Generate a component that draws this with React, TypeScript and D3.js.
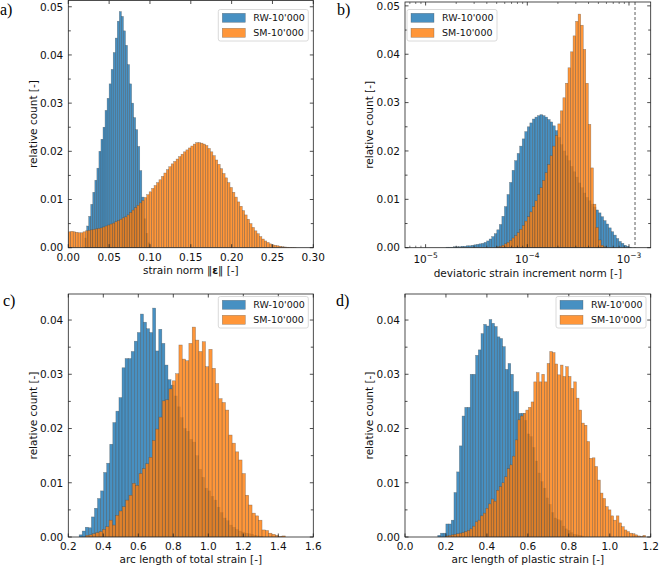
import React from "react";
import * as d3 from "d3";

// ---------- DATA ----------
const seriesNames = ["RW-10'000", "SM-10'000"];
const seriesColors = ["#1f77b4", "#ff7f0e"];

// Panel a: strain norm
const aRwStart = 0.02;
const aRwWidth = 0.0025;
const aRwValues = [0.002, 0.0045, 0.0065, 0.009, 0.0115, 0.014, 0.0165, 0.02, 0.0225, 0.025, 0.0285, 0.031, 0.034, 0.037, 0.0405, 0.0435, 0.047, 0.049, 0.048, 0.045, 0.042, 0.038, 0.034, 0.03, 0.027, 0.0245, 0.021, 0.016, 0.0105, 0.006, 0.003, 0.001];
const aSmStart = 0;
const aSmWidth = 0.003;
const aSmValues = [0.0033, 0.0034, 0.0033, 0.0032, 0.0031, 0.0031, 0.0033, 0.0035, 0.0036, 0.0037, 0.0038, 0.0039, 0.004, 0.0041, 0.0043, 0.0045, 0.0047, 0.0049, 0.0051, 0.0054, 0.0056, 0.0059, 0.0062, 0.0064, 0.0068, 0.0073, 0.0078, 0.0083, 0.0088, 0.0093, 0.0098, 0.0104, 0.011, 0.0116, 0.0123, 0.0129, 0.0135, 0.0141, 0.0148, 0.0155, 0.0162, 0.0168, 0.0174, 0.0179, 0.0184, 0.0189, 0.0194, 0.0199, 0.0203, 0.0207, 0.0211, 0.0215, 0.0218, 0.0218, 0.0217, 0.0215, 0.0212, 0.0206, 0.0199, 0.0191, 0.0182, 0.0173, 0.0164, 0.0154, 0.0145, 0.0135, 0.0125, 0.0115, 0.0105, 0.0095, 0.0086, 0.0077, 0.0068, 0.0059, 0.005, 0.0042, 0.0035, 0.0029, 0.0023, 0.0018, 0.0014, 0.0011, 0.0008, 0.0006, 0.0005, 0.0004, 0.0003, 0.0002, 0.00015, 0.0001, 0.00007, 0.00005, 0.00003];
const aXTicks = [0, 0.05, 0.1, 0.15, 0.2, 0.25, 0.3];

// Panel b: deviatoric strain increment norm (bins in log10 exponent)
const bBinStep = 0.025;
const bRwStartExp = -4.8;
const bRwValues = [0.0001, 0.0001, 0.0001, 0.0002, 0.0002, 0.0002, 0.0003, 0.0003, 0.0004, 0.0004, 0.0005, 0.0006, 0.0007, 0.0008, 0.0009, 0.0011, 0.0014, 0.0018, 0.0023, 0.0029, 0.0037, 0.0048, 0.0065, 0.0085, 0.011, 0.0135, 0.016, 0.018, 0.0195, 0.021, 0.0225, 0.024, 0.025, 0.0258, 0.0266, 0.027, 0.0273, 0.0275, 0.0273, 0.027, 0.0265, 0.026, 0.0252, 0.0242, 0.0228, 0.0213, 0.02, 0.019, 0.018, 0.0168, 0.0157, 0.0146, 0.0134, 0.0124, 0.0113, 0.0104, 0.0097, 0.009, 0.0084, 0.0078, 0.0072, 0.0064, 0.0056, 0.0049, 0.0041, 0.0033, 0.0026, 0.0019, 0.0013, 0.0009, 0.0005, 0.0003, 0.0001];
const bSmStartExp = -4.3;
const bSmValues = [0.0002, 0.0003, 0.0005, 0.0008, 0.0011, 0.0015, 0.002, 0.0025, 0.0031, 0.0038, 0.0046, 0.0055, 0.0064, 0.0074, 0.0085, 0.0097, 0.011, 0.0124, 0.0139, 0.0155, 0.0172, 0.019, 0.021, 0.0232, 0.0256, 0.0283, 0.031, 0.034, 0.0372, 0.0405, 0.0438, 0.0468, 0.0483, 0.046, 0.041, 0.034, 0.0255, 0.0165, 0.009, 0.0042, 0.0016, 0.0005, 0.0002];
const bXMajor = [1e-5, 1e-4, 1e-3];
const bXExponents = ["−5", "−4", "−3"];
const bDashedValue = 1.146e-3;

// Panel c: arc length of total strain
const cRwStart = 0.262;
const cRwWidth = 0.0175;
const cRwValues = [0.0004, 0.0011, 0.0018, 0.0017, 0.0037, 0.0053, 0.0071, 0.0085, 0.0119, 0.0136, 0.0171, 0.0211, 0.0232, 0.0257, 0.0312, 0.0329, 0.0329, 0.0342, 0.0361, 0.0377, 0.0411, 0.0396, 0.0384, 0.0377, 0.0422, 0.0343, 0.0383, 0.0357, 0.0317, 0.029, 0.028, 0.026, 0.024, 0.022, 0.02, 0.0195, 0.018, 0.0175, 0.015, 0.0125, 0.011, 0.009, 0.0085, 0.0075, 0.0068, 0.0055, 0.0045, 0.0035, 0.003, 0.0022, 0.0018, 0.0014, 0.0011, 0.0009, 0.0007, 0.0006, 0.0005, 0.0003, 0.0002, 0.0001];
const cSmStart = 0.3;
const cSmWidth = 0.019;
const cSmValues = [0.0003, 0.0004, 0.0006, 0.0008, 0.001, 0.0014, 0.0019, 0.0031, 0.0022, 0.004, 0.0048, 0.0056, 0.0068, 0.0077, 0.0099, 0.0095, 0.0117, 0.0126, 0.0135, 0.0147, 0.0178, 0.0199, 0.0221, 0.0251, 0.0253, 0.0273, 0.0288, 0.0301, 0.0354, 0.0328, 0.0325, 0.0357, 0.0387, 0.0363, 0.0342, 0.036, 0.0314, 0.0346, 0.0311, 0.0283, 0.0255, 0.0248, 0.0234, 0.0188, 0.0173, 0.0157, 0.0142, 0.0117, 0.0077, 0.0059, 0.0044, 0.0039, 0.0031, 0.0013, 0.0012, 0.0007, 0.0005, 0.0003, 0.0001, 0.0002];
const cXTicks = [0.2, 0.4, 0.6, 0.8, 1.0, 1.2, 1.4, 1.6];

// Panel d: arc length of plastic strain
const dRwStart = 0.16;
const dRwWidth = 0.0132;
const dRwValues = [0.0003, 0.0007, 0.0007, 0.0024, 0.0024, 0.0031, 0.0082, 0.012, 0.0168, 0.0223, 0.0239, 0.0239, 0.03, 0.03, 0.0335, 0.0345, 0.0375, 0.0392, 0.0389, 0.0401, 0.0394, 0.0388, 0.0369, 0.0366, 0.0351, 0.0309, 0.032, 0.03, 0.0268, 0.0268, 0.0228, 0.0228, 0.0215, 0.019, 0.0185, 0.0165, 0.014, 0.0118, 0.0102, 0.009, 0.0072, 0.006, 0.0045, 0.0035, 0.0032, 0.003, 0.002, 0.0015, 0.0012, 0.0008, 0.0005, 0.0004, 0.0003, 0.0002];
const dSmStart = 0.2;
const dSmWidth = 0.013;
const dSmValues = [0.0002, 0.0003, 0.0004, 0.0005, 0.0006, 0.0007, 0.0008, 0.001, 0.0012, 0.0015, 0.002, 0.0028, 0.0031, 0.0039, 0.0044, 0.0053, 0.0061, 0.007, 0.0066, 0.0086, 0.0093, 0.01, 0.0111, 0.0126, 0.0133, 0.0149, 0.0179, 0.0216, 0.0223, 0.0228, 0.0234, 0.0239, 0.0249, 0.0286, 0.0303, 0.0286, 0.03, 0.0286, 0.032, 0.0342, 0.034, 0.0319, 0.0299, 0.0317, 0.0296, 0.0314, 0.0296, 0.0274, 0.0286, 0.0256, 0.0234, 0.021, 0.0206, 0.0176, 0.0145, 0.0146, 0.013, 0.0105, 0.0081, 0.0071, 0.0056, 0.005, 0.0039, 0.0031, 0.0039, 0.0026, 0.0019, 0.0013, 0.001, 0.0007, 0.0006, 0.0004, 0.0002, 0.0001, 0.0003];
const dXTicks = [0, 0.2, 0.4, 0.6, 0.8, 1.0, 1.2];

const yLabel = "relative count [-]";

// ---------- HELPERS ----------
type Bin = { x0: number; x1: number; v: number };
const linBins = (start: number, width: number, values: number[]): Bin[] =>
  values.map((v, i) => ({ x0: start + i * width, x1: start + (i + 1) * width, v }));
const logBins = (startExp: number, step: number, values: number[]): Bin[] =>
  values.map((v, i) => ({ x0: Math.pow(10, startExp + i * step), x1: Math.pow(10, startExp + (i + 1) * step), v }));

const FONT = "DejaVu Sans, sans-serif";
const TICK_FS = 10.5;
const FILL_OP = 0.82;

type PanelCfg = {
  id: string;
  label: string;
  labelPos: [number, number];
  box: { left: number; right: number; top: number; bottom: number };
  log?: boolean;
  xDomain: [number, number];
  yMax: number;
  series: Bin[][];
  xTicks: number[];
  xFormat?: (v: number) => string;
  xLabel: React.ReactNode;
  xLabelY: number;
  yLabelX: number;
  legend: { x: number; y: number };
  dashed?: number;
};

function Panel({ cfg }: { cfg: PanelCfg }) {
  const { left, right, top, bottom } = cfg.box;
  const xs: any = cfg.log
    ? d3.scaleLog().domain(cfg.xDomain).range([left, right])
    : d3.scaleLinear().domain(cfg.xDomain).range([left, right]);
  const ys = d3.scaleLinear().domain([0, cfg.yMax]).range([bottom, top]);
  const yTickVals = d3.range(0, cfg.yMax + 1e-9, 0.005);
  const clipId = "clip-" + cfg.id;
  const tickColor = "#222";

  const minorLog: number[] = [];
  if (cfg.log) {
    for (let k = -7; k <= -2; k++) {
      for (let m = 2; m <= 9; m++) {
        const v = m * Math.pow(10, k);
        if (v > cfg.xDomain[0] && v < cfg.xDomain[1]) minorLog.push(v);
      }
    }
  }

  return (
    <g>
      <defs>
        <clipPath id={clipId}>
          <rect x={left} y={top} width={right - left} height={bottom - top} />
        </clipPath>
      </defs>
      <g clipPath={`url(#${clipId})`}>
        {cfg.series.map((bins, si) => (
          <g key={si}>
            {bins.map((b, i) => {
              const x0 = xs(b.x0);
              const x1 = xs(b.x1);
              const y = ys(b.v);
              return (
                <rect
                  key={i}
                  x={x0}
                  y={y}
                  width={Math.max(0, x1 - x0)}
                  height={Math.max(0, ys(0) - y)}
                  fill={seriesColors[si]}
                  fillOpacity={FILL_OP}
                  stroke="#444"
                  strokeOpacity={0.55}
                  strokeWidth={0.5}
                />
              );
            })}
          </g>
        ))}
        {cfg.dashed !== undefined && (
          <line
            x1={xs(cfg.dashed)}
            x2={xs(cfg.dashed)}
            y1={top}
            y2={bottom}
            stroke="#333"
            strokeWidth={0.8}
            strokeDasharray="3,2"
          />
        )}
      </g>

      {/* y ticks left & right */}
      {yTickVals.map((v, i) => {
        const y = ys(v);
        const major = i % 2 === 0;
        const len = major ? 3.5 : 2.5;
        return (
          <g key={"yt" + i}>
            <line x1={left} x2={left + len} y1={y} y2={y} stroke={tickColor} strokeWidth={0.8} />
            <line x1={right} x2={right - len} y1={y} y2={y} stroke={tickColor} strokeWidth={0.8} />
            {major && (
              <text
                x={left - 5}
                y={y}
                dy="0.36em"
                textAnchor="end"
                fontFamily={FONT}
                fontSize={TICK_FS}
                fill="#111"
              >
                {d3.format(".2f")(v)}
              </text>
            )}
          </g>
        );
      })}

      {/* x ticks */}
      {cfg.xTicks.map((v, i) => {
        const x = xs(v);
        return (
          <g key={"xt" + i}>
            <line x1={x} x2={x} y1={bottom} y2={bottom - 3.5} stroke={tickColor} strokeWidth={0.8} />
            <line x1={x} x2={x} y1={top} y2={top + 3.5} stroke={tickColor} strokeWidth={0.8} />
            {cfg.log ? (
              <text x={x} y={bottom + 15} textAnchor="middle" fontFamily={FONT} fontSize={TICK_FS} fill="#111">
                10
                <tspan dy={-5} fontSize={7.5}>
                  {bXExponents[i]}
                </tspan>
              </text>
            ) : (
              <text x={x} y={bottom + 13} textAnchor="middle" fontFamily={FONT} fontSize={TICK_FS} fill="#111">
                {cfg.xFormat ? cfg.xFormat(v) : String(v)}
              </text>
            )}
          </g>
        );
      })}
      {minorLog.map((v, i) => {
        const x = xs(v);
        return (
          <g key={"xm" + i}>
            <line x1={x} x2={x} y1={bottom} y2={bottom - 2} stroke={tickColor} strokeWidth={0.6} />
            <line x1={x} x2={x} y1={top} y2={top + 2} stroke={tickColor} strokeWidth={0.6} />
          </g>
        );
      })}

      {/* frame */}
      <rect x={left} y={top} width={right - left} height={bottom - top} fill="none" stroke="#222" strokeWidth={0.8} />

      {/* axis labels */}
      <text
        x={(left + right) / 2}
        y={cfg.xLabelY}
        textAnchor="middle"
        fontFamily={FONT}
        fontSize={TICK_FS}
        fill="#111"
      >
        {cfg.xLabel}
      </text>
      <text
        transform={`translate(${cfg.yLabelX},${(top + bottom) / 2}) rotate(-90)`}
        textAnchor="middle"
        fontFamily={FONT}
        fontSize={TICK_FS}
        fill="#111"
      >
        {yLabel}
      </text>

      {/* legend */}
      <g transform={`translate(${cfg.legend.x},${cfg.legend.y})`}>
        <rect x={0} y={0} width={90} height={31.5} rx={2} fill="white" fillOpacity={0.8} stroke="#d0d0d0" strokeWidth={0.8} />
        {seriesNames.map((name, i) => (
          <g key={name} transform={`translate(0,${i * 15})`}>
            <rect
              x={4}
              y={3.8}
              width={23}
              height={9}
              fill={seriesColors[i]}
              fillOpacity={FILL_OP}
              stroke="#444"
              strokeOpacity={0.55}
              strokeWidth={0.5}
            />
            <text x={35} y={11.8} fontFamily={FONT} fontSize={9.5} fill="#111">
              {name}
            </text>
          </g>
        ))}
      </g>

      {/* panel label */}
      <text x={cfg.labelPos[0]} y={cfg.labelPos[1]} fontFamily="Liberation Serif, Times New Roman, serif" fontSize={16} fill="#000">
        {cfg.label}
      </text>
    </g>
  );
}

const panels: PanelCfg[] = [
  {
    id: "a",
    label: "a)",
    labelPos: [0, 15],
    box: { left: 68.3, right: 313.3, top: 0.5, bottom: 247.7 },
    xDomain: [0, 0.3],
    yMax: 0.0513,
    series: [linBins(aRwStart, aRwWidth, aRwValues), linBins(aSmStart, aSmWidth, aSmValues)],
    xTicks: aXTicks,
    xFormat: d3.format(".2f"),
    xLabel: (
      <>
        strain norm ‖<tspan fontWeight="bold">ε</tspan>‖ [-]
      </>
    ),
    xLabelY: 274,
    yLabelX: 37,
    legend: { x: 218.3, y: 9.5 },
  },
  {
    id: "b",
    label: "b)",
    labelPos: [337, 15],
    box: { left: 405, right: 650.7, top: 2, bottom: 247.7 },
    log: true,
    xDomain: [Math.pow(10, -5.2026), Math.pow(10, -2.7866)],
    yMax: 0.0508,
    series: [logBins(bRwStartExp, bBinStep, bRwValues), logBins(bSmStartExp, bBinStep, bSmValues)],
    xTicks: bXMajor,
    xLabel: "deviatoric strain increment norm [-]",
    xLabelY: 276.5,
    yLabelX: 373,
    legend: { x: 407, y: 9.5 },
    dashed: bDashedValue,
  },
  {
    id: "c",
    label: "c)",
    labelPos: [3, 306],
    box: { left: 68.3, right: 313.3, top: 294, bottom: 537 },
    xDomain: [0.2, 1.6],
    yMax: 0.0448,
    series: [linBins(cRwStart, cRwWidth, cRwValues), linBins(cSmStart, cSmWidth, cSmValues)],
    xTicks: cXTicks,
    xFormat: d3.format(".1f"),
    xLabel: "arc length of total strain [-]",
    xLabelY: 562.5,
    yLabelX: 37,
    legend: { x: 218.3, y: 296.5 },
  },
  {
    id: "d",
    label: "d)",
    labelPos: [336, 306],
    box: { left: 405, right: 650.7, top: 294, bottom: 537 },
    xDomain: [0, 1.2],
    yMax: 0.0448,
    series: [linBins(dRwStart, dRwWidth, dRwValues), linBins(dSmStart, dSmWidth, dSmValues)],
    xTicks: dXTicks,
    xFormat: d3.format(".1f"),
    xLabel: "arc length of plastic strain [-]",
    xLabelY: 562.5,
    yLabelX: 373,
    legend: { x: 556, y: 296.5 },
  },
];

export default function App() {
  return (
    <svg
      width={659}
      height={565}
      viewBox="0 0 659 565"
      style={{ position: "absolute", left: 0, top: 0, background: "white" }}
    >
      <rect x={0} y={0} width={659} height={565} fill="white" />
      {panels.map((p) => (
        <Panel key={p.id} cfg={p} />
      ))}
    </svg>
  );
}
